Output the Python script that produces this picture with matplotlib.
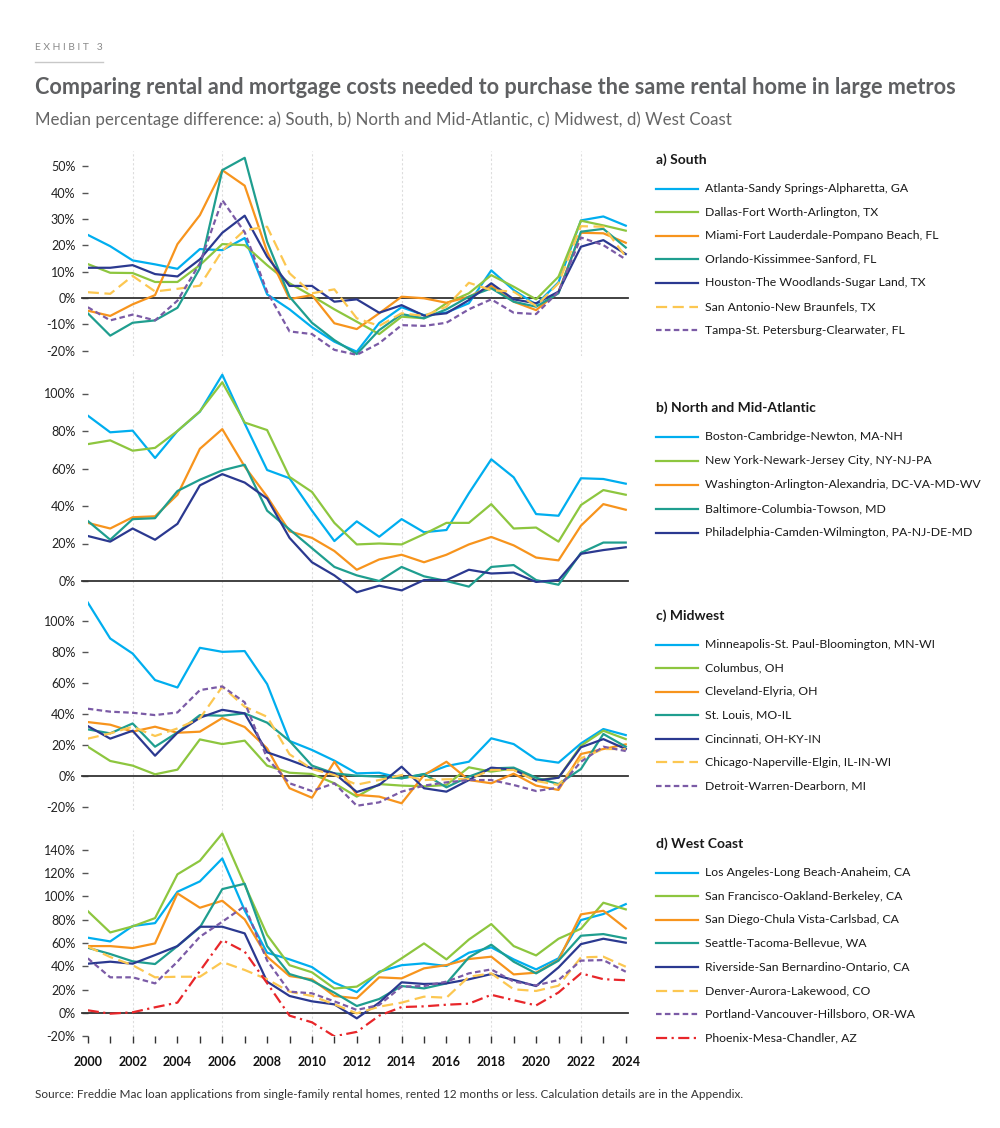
import matplotlib.pyplot as plt
from matplotlib.lines import Line2D

plt.rcParams['font.family'] = ['Lato', 'DejaVu Sans']

years = list(range(2000, 2025))

# colours used by the exhibit
cyan = '#00AEEF'
green = '#8DC63F'
orange = '#F7941D'
teal = '#1F9E8F'
navy = '#2B3990'
yellow = '#FCC751'
purple = '#7B5BA6'
red = '#E8262A'

# a) South
south_names = ['Atlanta-Sandy Springs-Alpharetta, GA', 'Dallas-Fort Worth-Arlington, TX',
               'Miami-Fort Lauderdale-Pompano Beach, FL', 'Orlando-Kissimmee-Sanford, FL',
               'Houston-The Woodlands-Sugar Land, TX', 'San Antonio-New Braunfels, TX',
               'Tampa-St. Petersburg-Clearwater, FL']
atlanta = [24, 19.7, 14.3, 12.8, 11.1, 18.6, 18.2, 22.8, 1.4, -4.3, -11.1, -16.6, -20.4,
           -9.5, -3.5, -6.5, -5.5, -2, 10.5, 3, -2.5, 6, 29.5, 31, 27.5]
dallas = [12.9, 9.6, 9.5, 6.1, 6.1, 12.5, 20.5, 20.1, 12.5, 5.6, 0.8, -4.3, -9,
          -13.7, -7.1, -7.7, -2, 1.8, 8.7, 4.3, -0.5, 8.1, 29.4, 27.6, 25.6]
miami = [-4.8, -6.8, -2.4, 1.1, 20.5, 31.5, 48.6, 42.7, 17.6, -0.4, 1.1, -9.6, -11.8,
         -5.8, 0.5, -0.1, -1.8, 0.5, 4.6, -1.4, -4.6, 2.4, 24.8, 24.6, 21]
orlando = [-5.8, -14.3, -9.4, -8.5, -3.7, 11.3, 48.6, 53.3, 21.4, 0.5, -9.4, -16, -21.3,
           -12.2, -6.1, -7.7, -4.3, 0.5, 3.7, -1.4, -3.3, 1.8, 25.2, 26.3, 19.2]
houston = [11.5, 11.5, 12.5, 9.1, 8.2, 14.7, 24.8, 31.3, 15.7, 4.6, 4.6, -1.4, -0.5,
           -5.6, -2.7, -6.7, -5.8, -0.8, 5.6, -0.5, -2, 2.4, 19.5, 22, 16.7]
san_antonio = [2.2, 1.6, 8.4, 2.5, 3.5, 4.7, 18, 25.8, 27.1, 9.4, 1.8, 3.3, -7.7,
               -10.6, -5.8, -6.8, -3.3, 5.8, 3, 2.4, -3, 5.6, 27.3, 27.1, 15.7]
tampa = [-3.5, -8.5, -6.3, -8.5, -1, 13.2, 37.2, 25, 2.4, -12.7, -13.7, -19.7, -21.6,
         -17.2, -10.3, -10.6, -9.4, -4.3, -0.5, -5.6, -6.1, 2.4, 23, 20.1, 14.7]

# b) North and Mid-Atlantic
north_names = ['Boston-Cambridge-Newton, MA-NH', 'New York-Newark-Jersey City, NY-NJ-PA',
               'Washington-Arlington-Alexandria, DC-VA-MD-WV', 'Baltimore-Columbia-Towson, MD',
               'Philadelphia-Camden-Wilmington, PA-NJ-DE-MD']
boston = [88.2, 79.3, 80.2, 65.6, 80, 90.3, 110, 84, 59.2, 54.8, 37.5, 21.3, 31.8,
          23.6, 33, 26, 27.2, 46.8, 64.9, 55.3, 35.7, 34.8, 54.8, 54.4, 51.9]
new_york = [73, 75, 69.5, 71, 80, 90.5, 106, 84.5, 80.5, 55.5, 47.5, 31, 19.5,
            20, 19.5, 25, 31, 31, 41, 28, 28.5, 21, 40.5, 48.5, 46]
washington = [31, 28, 34, 34.5, 46, 70.5, 81, 61, 45, 26.5, 23, 16, 6,
              11.5, 14, 10, 14, 19.5, 23.5, 19, 12.5, 11, 29.5, 41, 38]
baltimore = [32, 22, 33, 33.5, 48, 54, 59, 62, 37.5, 27.5, 17.5, 7.5, 3,
             0, 7.5, 2.5, 0, -3, 7.5, 8.5, 0.5, -2, 15, 20.5, 20.5]
philadelphia = [24, 21, 28, 22, 30.5, 51, 57, 52.5, 44, 23, 10, 3, -6,
                -2.5, -5, 0.5, 0.5, 6, 4, 4.5, -0.5, 0.5, 14.5, 16.5, 18]

# c) Midwest
midwest_names = ['Minneapolis-St. Paul-Bloomington, MN-WI', 'Columbus, OH', 'Cleveland-Elyria, OH',
                 'St. Louis, MO-IL', 'Cincinnati, OH-KY-IN', 'Chicago-Naperville-Elgin, IL-IN-WI',
                 'Detroit-Warren-Dearborn, MI']
minneapolis = [111.9, 88.7, 79, 61.9, 57.1, 82.7, 80.1, 80.6, 59.3, 22.6, 16.8, 9.9, 1.7,
               2.1, -1.5, 1.1, 6.4, 9.2, 24.3, 20.6, 10.7, 8.6, 21, 30.3, 26.4]
columbus = [18.9, 9.7, 6.7, 1.1, 4.1, 23.6, 20.6, 22.8, 6.7, 2.1, 1.3, -4.7, -13.3,
            -5.2, -6.2, -6.7, -5.8, 5.6, 2.8, 4.9, -2.6, -1.1, 19.5, 29.2, 23.8]
cleveland = [34.8, 33.1, 28.6, 31.8, 27.9, 28.6, 37.4, 31.6, 17.8, -7.9, -14, 9.2, -12.2,
             -13.3, -17.6, 0.6, 9.2, -2.6, -4.7, 1.5, -6.2, -9, 14.2, 17.4, 20.4]
st_louis = [30.1, 27.5, 33.9, 18.9, 28.1, 39.3, 38.9, 40.4, 34.4, 22.6, 6.7, 1.7, 0.2,
            -0.4, -1.5, 1.3, -7.3, -0.4, 4.9, 5.4, -1.1, -5.2, 4.5, 27.1, 18.9]
cincinnati = [32.2, 24.1, 29.2, 13.1, 27.9, 37.6, 42.7, 40.4, 15.3, 10.3, 4.9, 1.7, -10.3,
              -5.8, 6, -7.9, -10.1, -2.6, 5.4, 4.1, -3, -1.1, 18.5, 23.8, 17.4]
chicago = [24.1, 27.5, 31.8, 25.8, 30.7, 37.2, 57.6, 44.7, 38.2, 14, 4.5, 0.6, -5.6,
           -2.6, 0.6, -2.6, -2.1, -1.9, 3.9, 3.9, -3.2, -5.8, 11.4, 17.4, 17.4]
detroit = [43.4, 41.5, 40.8, 39.3, 41, 55.4, 57.8, 47.5, 11.4, -4.7, -9.7, -4.7, -19.2,
           -17, -10.1, -6.2, -4.1, -2.6, -2.6, -5.8, -9.7, -7.5, 9.2, 18.9, 16.1]

# d) West Coast
west_names = ['Los Angeles-Long Beach-Anaheim, CA', 'San Francisco-Oakland-Berkeley, CA',
              'San Diego-Chula Vista-Carlsbad, CA', 'Seattle-Tacoma-Bellevue, WA',
              'Riverside-San Bernardino-Ontario, CA', 'Denver-Aurora-Lakewood, CO',
              'Portland-Vancouver-Hillsboro, OR-WA', 'Phoenix-Mesa-Chandler, AZ']
los_angeles = [64.6, 61.4, 74.6, 77.1, 104, 112.9, 132.6, 88, 51.7, 46, 39.4, 26, 17.9,
               35.4, 41, 42.6, 40.3, 51.7, 56.3, 46, 37.4, 46.9, 79.7, 84.9, 93.4]
san_francisco = [87.4, 69.1, 74.3, 81.4, 119, 130.6, 154, 110, 67, 41, 34.9, 21, 22.6,
                 34.6, 46.9, 59.7, 46, 63, 76.3, 57.4, 49.4, 63.7, 72.3, 94.6, 88.9]
san_diego = [57.4, 57.4, 55.7, 59.7, 102.6, 90.3, 96.3, 80.3, 48.3, 31.7, 28.9, 14.6, 12.6,
             30.6, 29.7, 38.3, 41.1, 46.3, 48.3, 33.1, 34.6, 45.4, 84.6, 87.7, 72.6]
seattle = [56, 50.6, 44.3, 42, 57.4, 73.4, 106.3, 110.9, 57.4, 33.4, 27.7, 17.4, 6,
           12, 23.1, 21.1, 25.4, 47.7, 58.6, 44, 34, 44.9, 66.3, 67.7, 64]
riverside = [42.3, 44, 42.3, 49.7, 57.4, 74, 74, 68.3, 26.9, 14.6, 10, 7.4, -4.6,
             8.9, 26.3, 24.9, 25.4, 28.9, 33.4, 28.3, 23.1, 39.1, 59.1, 63.7, 60.3]
denver = [57, 48, 41, 30.6, 31.1, 31.1, 43.7, 36.9, 28.9, 18.3, 14.6, 7.4, -0.3,
          5.4, 8.9, 14, 13.1, 31.1, 34, 20.3, 18.9, 23.4, 47.7, 48.3, 39.7]
portland = [46.9, 30.6, 30.6, 25.4, 44, 65.4, 78.3, 91.7, 45, 18.3, 16.9, 10, 2.6,
            6.9, 22.6, 23.1, 26.9, 34, 37.4, 26.9, 23.7, 28.3, 44.9, 45.4, 35.4]
phoenix = [2.3, -0.6, 0.6, 4.9, 8.9, 36, 62.6, 52.6, 25.6, -2.3, -8, -20, -16.2,
           -2.3, 5.1, 5.7, 7.1, 8, 15.6, 11, 6.5, 17.6, 34, 29, 28.1]

solid = '-'
long_dash = (0, (5, 2.5))
short_dash = (0, (2.5, 1.5))
dash_dot = (0, (5, 2, 1, 2))

panels = [
    dict(title='a) South', names=south_names,
         series=[atlanta, dallas, miami, orlando, houston, san_antonio, tampa],
         colors=[cyan, green, orange, teal, navy, yellow, purple],
         styles=[solid] * 5 + [long_dash, short_dash],
         ylim=(-22, 56), ticks=range(-20, 51, 10), top=150.7, bottom=355.9,
         ltop=160, lstep=23.6),
    dict(title='b) North and Mid-Atlantic', names=north_names,
         series=[boston, new_york, washington, baltimore, philadelphia],
         colors=[cyan, green, orange, teal, navy],
         styles=[solid] * 5,
         ylim=(-8, 112), ticks=range(0, 101, 20), top=371, bottom=596,
         ltop=408, lstep=24),
    dict(title='c) Midwest', names=midwest_names,
         series=[minneapolis, columbus, cleveland, st_louis, cincinnati, chicago, detroit],
         colors=[cyan, green, orange, teal, navy, yellow, purple],
         styles=[solid] * 5 + [long_dash, short_dash],
         ylim=(-22, 114), ticks=range(-20, 101, 20), top=599.3, bottom=810.1,
         ltop=616, lstep=23.5),
    dict(title='d) West Coast', names=west_names,
         series=[los_angeles, san_francisco, san_diego, seattle, riverside, denver, portland, phoenix],
         colors=[cyan, green, orange, teal, navy, yellow, purple, red],
         styles=[solid] * 5 + [long_dash, short_dash, dash_dot],
         ylim=(-20, 157), ticks=range(-20, 141, 20), top=830, bottom=1036.3,
         ltop=844, lstep=23.6),
]

W, H = 1000, 1128
fig = plt.figure(figsize=(W / 100, H / 100), dpi=100)

x0, x1 = 87.8, 628
for i, p in enumerate(panels):
    ax = fig.add_axes([x0 / W, 1 - p['bottom'] / H, (x1 - x0) / W, (p['bottom'] - p['top']) / H])
    for vals, c, ls in zip(p['series'], p['colors'], p['styles']):
        ax.plot(years, vals, color=c, linestyle=ls, linewidth=1.6, zorder=3)
    ax.axhline(0, xmin=-0.01, color='#333333', linewidth=1.3, zorder=2, clip_on=False)
    for g in range(2002, 2024, 4):
        ax.axvline(g, color='#dddddd', linewidth=0.8, linestyle=(0, (2, 2)), zorder=1)
    ax.set_xlim(2000, 2024.1)
    ax.set_ylim(*p['ylim'])
    ax.set_yticks(list(p['ticks']))
    ax.set_yticklabels([f'{t}%' for t in p['ticks']])
    ax.tick_params(axis='y', length=4, width=1, color='#555555', pad=5,
                   labelsize=9, labelcolor='#222222')
    for s in ax.spines.values():
        s.set_visible(False)
    if i < 3:
        ax.set_xticks([])
    else:
        ax.set_xticks(years)
        ax.set_xticklabels([str(y) if y % 2 == 0 else '' for y in years])
        ax.tick_params(axis='x', length=5, width=1, color='#333333', pad=9,
                       labelsize=9, labelcolor='#111111')
        for lab in ax.get_xticklabels():
            lab.set_fontweight('bold')
    ax.set_facecolor('none')

    # legend
    fig.text(656 / W, 1 - p['ltop'] / H, p['title'], fontsize=10, fontweight='bold',
             color='#1a1a1a', va='center', ha='left')
    for k, (name, c, ls) in enumerate(zip(p['names'], p['colors'], p['styles'])):
        yy = 1 - (p['ltop'] + 28.5 + k * p['lstep']) / H
        fig.add_artist(Line2D([656 / W, 698 / W], [yy, yy], color=c, linestyle=ls,
                              linewidth=1.6, transform=fig.transFigure))
        fig.text(705 / W, yy, name, fontsize=8.8, color='#1a1a1a', va='center', ha='left')

# header
fig.text(35 / W, 1 - 47 / H, 'E X H I B I T   3', fontsize=7.4, color='#8a8a8a', va='center')
fig.add_artist(Line2D([35 / W, 103 / W], [1 - 62 / H, 1 - 62 / H], color='#c8c8c8',
                      linewidth=1, transform=fig.transFigure))
fig.text(35 / W, 1 - 87 / H,
         'Comparing rental and mortgage costs needed to purchase the same rental home in large metros',
         fontsize=15.6, fontweight='bold', color='#5f6062', va='center')
fig.text(35 / W, 1 - 120 / H,
         'Median percentage difference: a) South, b) North and Mid-Atlantic, c) Midwest, d) West Coast',
         fontsize=12.2, color='#666666', va='center')
fig.text(35 / W, 1 - 1094 / H,
         'Source: Freddie Mac loan applications from single-family rental homes, rented 12 months or less. '
         'Calculation details are in the Appendix.',
         fontsize=8.5, color='#333333', va='center')

fig.savefig('out.png', dpi=100)
